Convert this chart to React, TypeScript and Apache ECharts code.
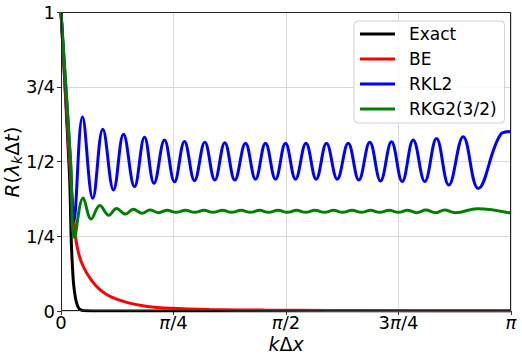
import React, { useEffect, useRef } from "react";
import * as echarts from "echarts";

// x values are in units of π (k·Δx / π)
const xTickLabels = ["0", "{i|π}/4", "{i|π}/2", "3{i|π}/4", "{i|π}"];
const yTickLabels = ["0", "1/4", "1/2", "3/4", "1"];
const seriesNames = ["Exact", "BE", "RKL2", "RKG2(3/2)"];
const seriesColors = ["#000000", "#ff0000", "#0000ff", "#008000"];

const exactX = [0, 0.019, 0.0225, 0.025, 0.028, 0.032, 0.036, 0.041, 0.047, 0.055, 0.07, 1];
const exactY = [1, 0.45, 0.25, 0.16, 0.09, 0.045, 0.02, 0.007, 0.002, 0.0005, 0, 0];

const beX = [0, 0.0189, 0.0322, 0.0396, 0.0507, 0.0689, 0.0878, 0.11, 0.1478, 0.1922, 0.2433, 0.33, 0.45, 0.6, 0.8, 1];
const beY = [1, 0.5, 0.25, 0.19, 0.145, 0.1, 0.07, 0.048, 0.028, 0.015, 0.009, 0.005, 0.003, 0.002, 0.0012, 0.0008];

const rkl2X = [
  0, 0.0211, 0.0283, 0.0478, 0.0707, 0.0929, 0.1167, 0.1389, 0.1633, 0.1856,
  0.2067, 0.23, 0.2522, 0.2744, 0.2967, 0.3196, 0.3418, 0.364, 0.3862, 0.41,
  0.4322, 0.4544, 0.4767, 0.4989, 0.5211, 0.5444, 0.5671, 0.59, 0.6138, 0.6382,
  0.6618, 0.6862, 0.71, 0.7344, 0.7582, 0.7827, 0.8084, 0.8344, 0.8618, 0.8938,
  0.9271, 0.9767, 1,
];
const rkl2Y = [
  1, 0.5, 0.3, 0.649, 0.377, 0.608, 0.405, 0.591, 0.416, 0.581,
  0.427, 0.572, 0.432, 0.567, 0.436, 0.564, 0.438, 0.563, 0.438, 0.561,
  0.441, 0.561, 0.441, 0.561, 0.441, 0.561, 0.441, 0.561, 0.441, 0.561,
  0.438, 0.564, 0.435, 0.566, 0.433, 0.572, 0.433, 0.577, 0.421, 0.583,
  0.41, 0.59, 0.6,
];

const rkg2X = [
  0, 0.0211, 0.03, 0.0493, 0.0671, 0.0862, 0.1062, 0.1233, 0.1433, 0.1604,
  0.1804, 0.1973, 0.2173, 0.236, 0.2556, 0.2767, 0.2967, 0.3178, 0.3378, 0.3589,
  0.3789, 0.4, 0.4211, 0.4411, 0.4611, 0.4822, 0.5033, 0.5233, 0.5433, 0.5644,
  0.5856, 0.6056, 0.6256, 0.6467, 0.6678, 0.6878, 0.7078, 0.7289, 0.75, 0.77,
  0.79, 0.8111, 0.8322, 0.8522, 0.8767, 0.9249, 1,
];
const rkg2Y = [
  1, 0.505, 0.245, 0.378, 0.308, 0.353, 0.32, 0.343, 0.324, 0.34,
  0.327, 0.338, 0.329, 0.337, 0.33, 0.337, 0.33, 0.337, 0.33, 0.337,
  0.33, 0.337, 0.33, 0.337, 0.33, 0.337, 0.33, 0.337, 0.33, 0.337,
  0.33, 0.337, 0.33, 0.337, 0.33, 0.337, 0.33, 0.337, 0.33, 0.337,
  0.329, 0.338, 0.329, 0.338, 0.329, 0.342, 0.327,
];

const FONT = "DejaVu Sans";

function pairs(xs: number[], ys: number[]) {
  return xs.map((x, i) => [x, ys[i]]);
}

export default function App() {
  const ref = useRef<HTMLDivElement>(null);
  useEffect(() => {
    const chart = echarts.init(ref.current!, null, { renderer: "svg" });
    const allX = [exactX, beX, rkl2X, rkg2X];
    const allY = [exactY, beY, rkl2Y, rkg2Y];
    const smooths = [0.3, 0.3, 0.4, 0.4];
    const gridLeft = 61, gridTop = 12, gridW = 450, gridH = 299;
    chart.setOption({
      animation: false,
      backgroundColor: "#ffffff",
      grid: { left: gridLeft, top: gridTop, width: gridW, height: gridH, containLabel: false },
      xAxis: {
        type: "value",
        min: 0,
        max: 1,
        interval: 0.25,
        axisLine: { show: false },
        axisTick: { show: true, length: 4, lineStyle: { color: "#333" } },
        axisLabel: {
          margin: 3,
          fontFamily: FONT,
          fontSize: 18,
          lineHeight: 16,
          color: "#000",
          formatter: (v: number) => xTickLabels[Math.round(v * 4)],
          rich: { i: { fontFamily: FONT, fontSize: 18, lineHeight: 16, fontStyle: "italic", color: "#000" } },
        },
        splitLine: { show: true, lineStyle: { color: "#d9d9d9", width: 1 } },
      },
      yAxis: {
        type: "value",
        min: 0,
        max: 1,
        interval: 0.25,
        axisLine: { show: false },
        axisTick: { show: true, length: 4, lineStyle: { color: "#333" } },
        axisLabel: {
          margin: 6,
          fontFamily: FONT,
          fontSize: 18,
          color: "#000",
          formatter: (v: number) => yTickLabels[Math.round(v * 4)],
        },
        splitLine: { show: true, lineStyle: { color: "#d9d9d9", width: 1 } },
      },
      legend: {
        data: seriesNames,
        orient: "vertical",
        left: 354,
        top: 21,
        padding: [3, 8, 4, 6],
        itemWidth: 35,
        itemHeight: 3,
        itemGap: 5,
        icon: "rect",
        backgroundColor: "rgba(255,255,255,0.85)",
        borderColor: "#d0d0d0",
        borderWidth: 1,
        borderRadius: 4,
        textStyle: { fontFamily: FONT, fontSize: 17, color: "#000", lineHeight: 20, padding: [0, 0, 0, 9] },
      },
      graphic: [
        {
          type: "rect",
          silent: true,
          z: 100,
          shape: { x: gridLeft + 0.5, y: gridTop + 0.5, width: gridW - 1, height: gridH - 1 },
          style: { fill: "none", stroke: "#222", lineWidth: 1 },
        },
        {
          type: "text",
          silent: true,
          x: 12,
          y: 162,
          rotation: Math.PI / 2,
          style: {
            text: "{i|R}{n|(}{i|λ}{s|k}{n|Δ}{i|t}{n|)}",
            align: "center",
            verticalAlign: "middle",
            fill: "#000",
            font: `20px '${FONT}'`,
            rich: {
              n: { fontFamily: FONT, fontSize: 20, fill: "#000", lineHeight: 24 },
              i: { fontFamily: FONT, fontSize: 20, fontStyle: "italic", fill: "#000", lineHeight: 24 },
              s: { fontFamily: FONT, fontSize: 14, fontStyle: "italic", fill: "#000", lineHeight: 14, verticalAlign: "bottom" },
            },
          },
        },
        {
          type: "text",
          silent: true,
          x: 286,
          y: 344,
          style: {
            text: "{i|k}{n|Δ}{i|x}",
            align: "center",
            verticalAlign: "middle",
            fill: "#000",
            font: `19px '${FONT}'`,
            rich: {
              n: { fontFamily: FONT, fontSize: 19, fill: "#000", lineHeight: 18 },
              i: { fontFamily: FONT, fontSize: 19, fontStyle: "italic", fill: "#000", lineHeight: 18 },
            },
          },
        },
      ],
      series: seriesNames.map((name, k) => ({
        type: "line",
        name,
        data: pairs(allX[k], allY[k]),
        showSymbol: false,
        symbol: "none",
        smooth: smooths[k],
        clip: true,
        color: seriesColors[k],
        itemStyle: { color: seriesColors[k] },
        lineStyle: { color: seriesColors[k], width: 3 },
        z: 2 + k,
      })),
    });
    return () => chart.dispose();
  }, []);
  return (
    <div
      ref={ref}
      style={{ position: "absolute", left: 0, top: 0, width: 522, height: 360 }}
    />
  );
}
